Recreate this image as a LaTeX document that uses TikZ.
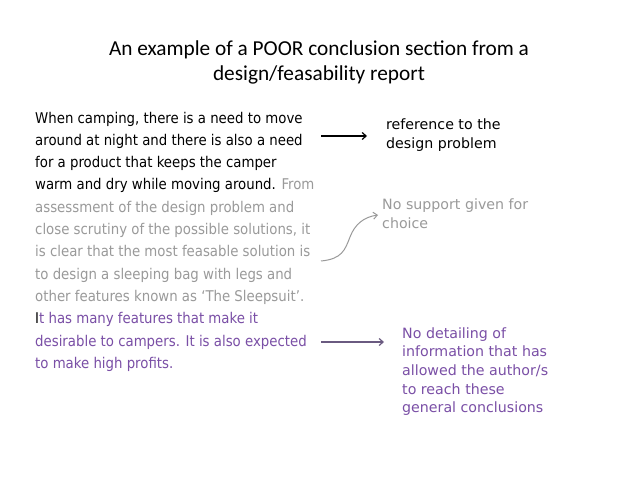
\documentclass[tikz,border=0pt]{standalone}
\usepackage{fontspec}
\setmainfont{DejaVu Sans Condensed}
\newfontfamily\titlefont{Carlito}
\newfontfamily\labfont{DejaVu Sans}
\usetikzlibrary{arrows.meta}
\definecolor{gr}{HTML}{9A9A9A}
\definecolor{pu}{HTML}{7A4FA6}
\definecolor{pa}{HTML}{6A5A80}
\tikzset{ln/.style={anchor=base west,inner sep=0,font=\fontsize{14.8}{18}\selectfont},
 lab/.style={anchor=north west,inner sep=0,align=left,font=\labfont\fontsize{14.2}{18.7}\selectfont},
 labl/.style={anchor=base west,inner sep=0,font=\labfont\fontsize{14.2}{18.7}\selectfont},
 ttl/.style={inner sep=0,align=center,font=\titlefont\fontsize{21.3}{25}\selectfont},
 arr/.style={-{Straight Barb[length=4pt,width=7pt]},line width=1.2pt}}
\begin{document}
\begin{tikzpicture}[x=1pt,y=-1pt]
\useasboundingbox[fill=white] (0,0) rectangle (638,479);
\node[ttl] (t) at (319,62) {An example of a POOR conclusion section from a\\design/feasability report};
\node[ln] (l1) at (35,123) {When camping, there is a need to move};
\node[ln] (l2) at (35,145.3) {around at night and there is also a need};
\node[ln] (l3) at (35,167.6) {for a product that keeps the camper};
\node[ln] (l4) at (35,189.9) {warm and dry while moving around. \textcolor{gr}{From}};
\node[ln,text=gr] (l5) at (35,212.2) {assessment of the design problem and};
\node[ln,text=gr] (l6) at (35,234.5) {close scrutiny of the possible solutions, it};
\node[ln,text=gr] (l7) at (35,256.8) {is clear that the most feasable solution is};
\node[ln,text=gr] (l8) at (35,279.1) {to design a sleeping bag with legs and};
\node[ln,text=gr] (l9) at (35,301.4) {other features known as `The Sleepsuit'.};
\node[ln] (l10) at (35,323.7) {I\textcolor{pu}{t has many features that make it}};
\node[ln,text=pu] (l11) at (35,346) {desirable to campers. It is also expected};
\node[ln,text=pu] (l12) at (35,368.3) {to make high profits.};
\node[lab] (r1) at (386,119) {reference to the\\design problem};
\node[lab,text=gr] (r2) at (382,199) {No support given for\\choice};
\node[labl,text=pu] (r3a) at (402,338) {No detailing of};
\node[labl,text=pu] (r3b) at (402,356.7) {information that has};
\node[labl,text=pu] (r3c) at (402,375.4) {allowed the author/s};
\node[labl,text=pu] (r3d) at (402,394.1) {to reach these};
\node[labl,text=pu] (r3e) at (402,412.8) {general conclusions};
\coordinate (a1) at (321,136); \coordinate (b1) at (367,136);
\coordinate (a2) at (321,261); \coordinate (b2) at (378,215);
\coordinate (a3) at (321,342); \coordinate (b3) at (384,342);
\draw[arr] (a1) -- (b1);
\draw[arr,gr,line width=1pt] (a2) .. controls (342,259) and (345,250) .. (350,237) .. controls (355,224) and (364,217) .. (b2);
\draw[arr,pa] (a3) -- (b3);
\end{tikzpicture}
\end{document}
